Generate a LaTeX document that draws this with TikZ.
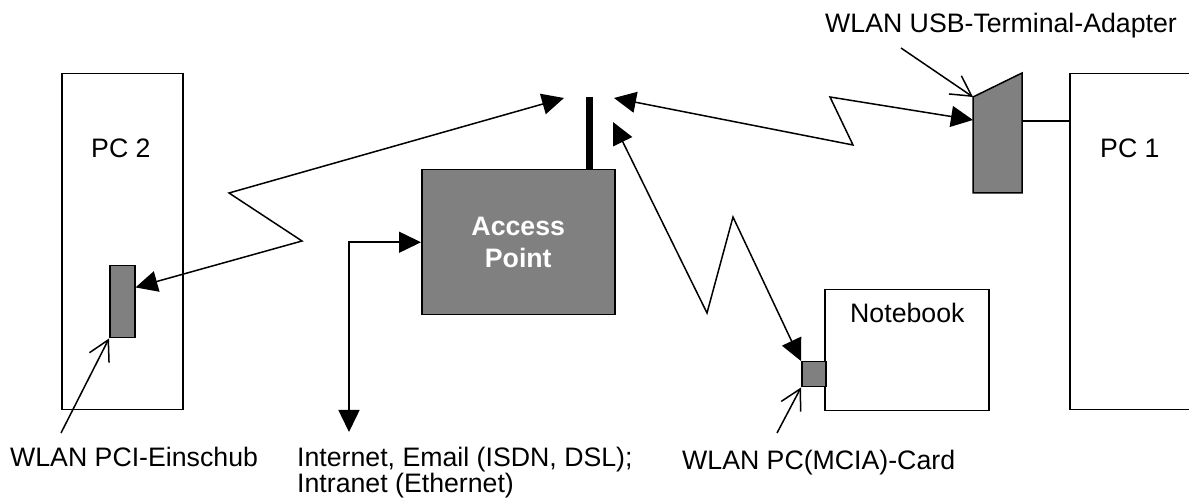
\documentclass[tikz,border=0pt]{standalone}
\usepackage{fontspec}
\setmainfont{Liberation Sans}
\usetikzlibrary{arrows.meta,calc}
\tikzset{
  box/.style={draw=black, line width=1.5pt, fill=white, inner sep=0pt, anchor=north west},
  card/.style={draw=black, line width=1.5pt, fill=devgray, inner sep=0pt, anchor=north west},
  lbl/.style={inner sep=0pt, anchor=base west, font=\fontsize{26.7}{26.7}\selectfont},
  radio/.style={line width=1.5pt, {Triangle[length=22pt,width=21pt]}-{Triangle[length=22pt,width=21pt]}},
  wire/.style={line width=1.5pt},
  pointer/.style={line width=1.5pt, -{Straight Barb[length=20pt,width=22pt,line width=1.5pt]}}
}
\definecolor{devgray}{RGB}{128,128,128}
\begin{document}
\begin{tikzpicture}[x=1pt,y=-1pt]
\useasboundingbox (0,0) rectangle (1189,502);
\clip (0,0) rectangle (1189,502);

% computers
\node[box, minimum width=121pt, minimum height=336pt] (pc2) at (61,73) {};
\node[lbl] at (91,158) {PC 2};
\node[box, minimum width=200pt, minimum height=336pt] (pc1) at (1069,73) {};
\node[lbl] at (1100,158) {PC 1};
\node[box, minimum width=164pt, minimum height=121pt] (nb) at (824,289) {};
\node[lbl] at (850,323) {Notebook};

% WLAN cards
\node[card, minimum width=25pt, minimum height=72pt] (pci) at (109,265) {};
\node[card, minimum width=24pt, minimum height=25pt] (pcmcia) at (801,361) {};

% USB adapter
\coordinate (usbTL) at (973,97);
\coordinate (usbTR) at (1022,73);
\coordinate (usbBR) at (1022,193);
\coordinate (usbBL) at (973,193);
\coordinate (usbPort) at (1022,121);
\coordinate (usbIn) at (973,120);
\draw[line width=1.5pt, fill=devgray] (usbTL) -- (usbTR) -- (usbBR) -- (usbBL) -- cycle;
\draw[wire] (usbPort) -- (usbPort -| pc1.west);

% access point with antenna
\node[box, fill=devgray, minimum width=193pt, minimum height=145pt,
      text=white, align=center, font=\fontsize{26.7}{32}\selectfont\bfseries] (ap) at (421,169) {Access\\Point};
\coordinate (antTop) at (589.5,97);
\draw[line width=7pt] (antTop) -- (antTop |- ap.north);
\coordinate (antL) at (564,98);
\coordinate (antR) at (614,98);
\coordinate (antLow) at (613,122);

% radio links
\draw[radio] ($(pci.north east)!0.305!(pci.south east)$) -- (302,241) -- (229,193) -- (antL);
\draw[radio] (antR) -- (853,145) -- (830,97) -- (usbIn);
\draw[radio] (antLow) -- (707,313) -- (733,217) -- (pcmcia.north west);

% wired uplink
\coordinate (net) at (349,432);
\draw[radio] (ap.west) -- (net |- ap.west) -- (net);

% labels with pointers
\node[lbl] (pcilbl) at (10,467) {WLAN PCI-Einschub};
\coordinate (pciFrom) at (61,433);
\draw[pointer] (pciFrom) -- (pci.south west);

\node[lbl] (netlbl) at (297,467) {Internet, Email (ISDN, DSL);};
\node[lbl] (netlbl2) at (297,493) {Intranet (Ethernet)};

\node[lbl] (cardlbl) at (682,469) {WLAN PC(MCIA)-Card};
\coordinate (cardFrom) at (777,433);
\draw[pointer] (cardFrom) -- (pcmcia.south west);

\node[lbl] (usblbl) at (825,33) {WLAN USB-Terminal-Adapter};
\coordinate (usbFrom) at (901,48);
\draw[pointer] (usbFrom) -- (usbTL);
\end{tikzpicture}
\end{document}
